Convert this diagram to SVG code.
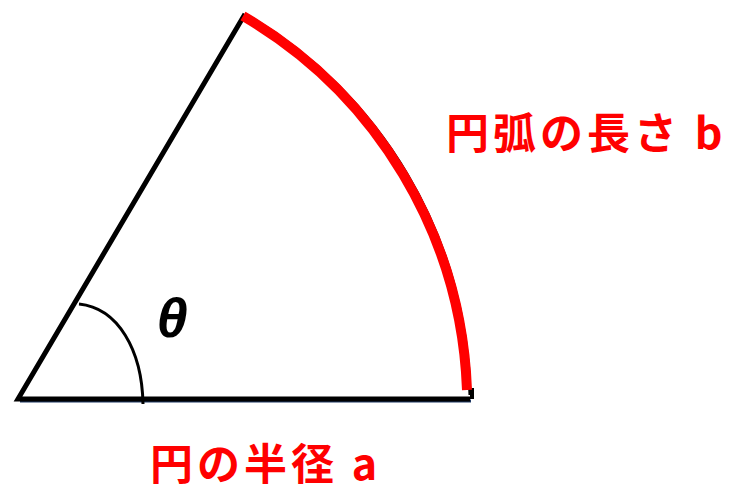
<svg xmlns="http://www.w3.org/2000/svg" width="730" height="487" viewBox="0 0 730 487">
<style>
.lbl{font-family:"Noto Sans CJK JP","Noto Sans",sans-serif;font-weight:bold;fill:#ff0000;font-size:43px;letter-spacing:4px}
.blk{fill:none;stroke:#000;stroke-linecap:butt}
</style>
<rect width="730" height="487" fill="#fff"/>
<g id="sector">
<line x1="20" y1="401" x2="471" y2="401" stroke="#1f3864" stroke-width="3"/>
<path class="blk" d="M470 399 L18 399 L245 14" stroke-width="5" stroke-linejoin="miter"/>
<path class="blk" d="M245 14 A450 450 0 0 1 470 395" stroke-width="3"/>
<line x1="472" y1="388" x2="472" y2="399" stroke="#000" stroke-width="4"/>
</g>
<g id="arc-b">
<path d="M243 16 A452 452 0 0 1 467 390" fill="none" stroke="#ff0000" stroke-width="10"/>
</g>
<g id="angle">
<path class="blk" d="M79 304 C 118 308, 142 350, 143 404" stroke-width="3"/>
<text x="172" y="337" text-anchor="middle" font-family="Liberation Sans, sans-serif" font-weight="bold" font-style="italic" font-size="56">θ</text>
</g>
<g id="label-b"><text class="lbl" x="446" y="149">円弧の長さ b</text></g>
<g id="label-a"><text class="lbl" x="150" y="480">円の半径 a</text></g>
</svg>
